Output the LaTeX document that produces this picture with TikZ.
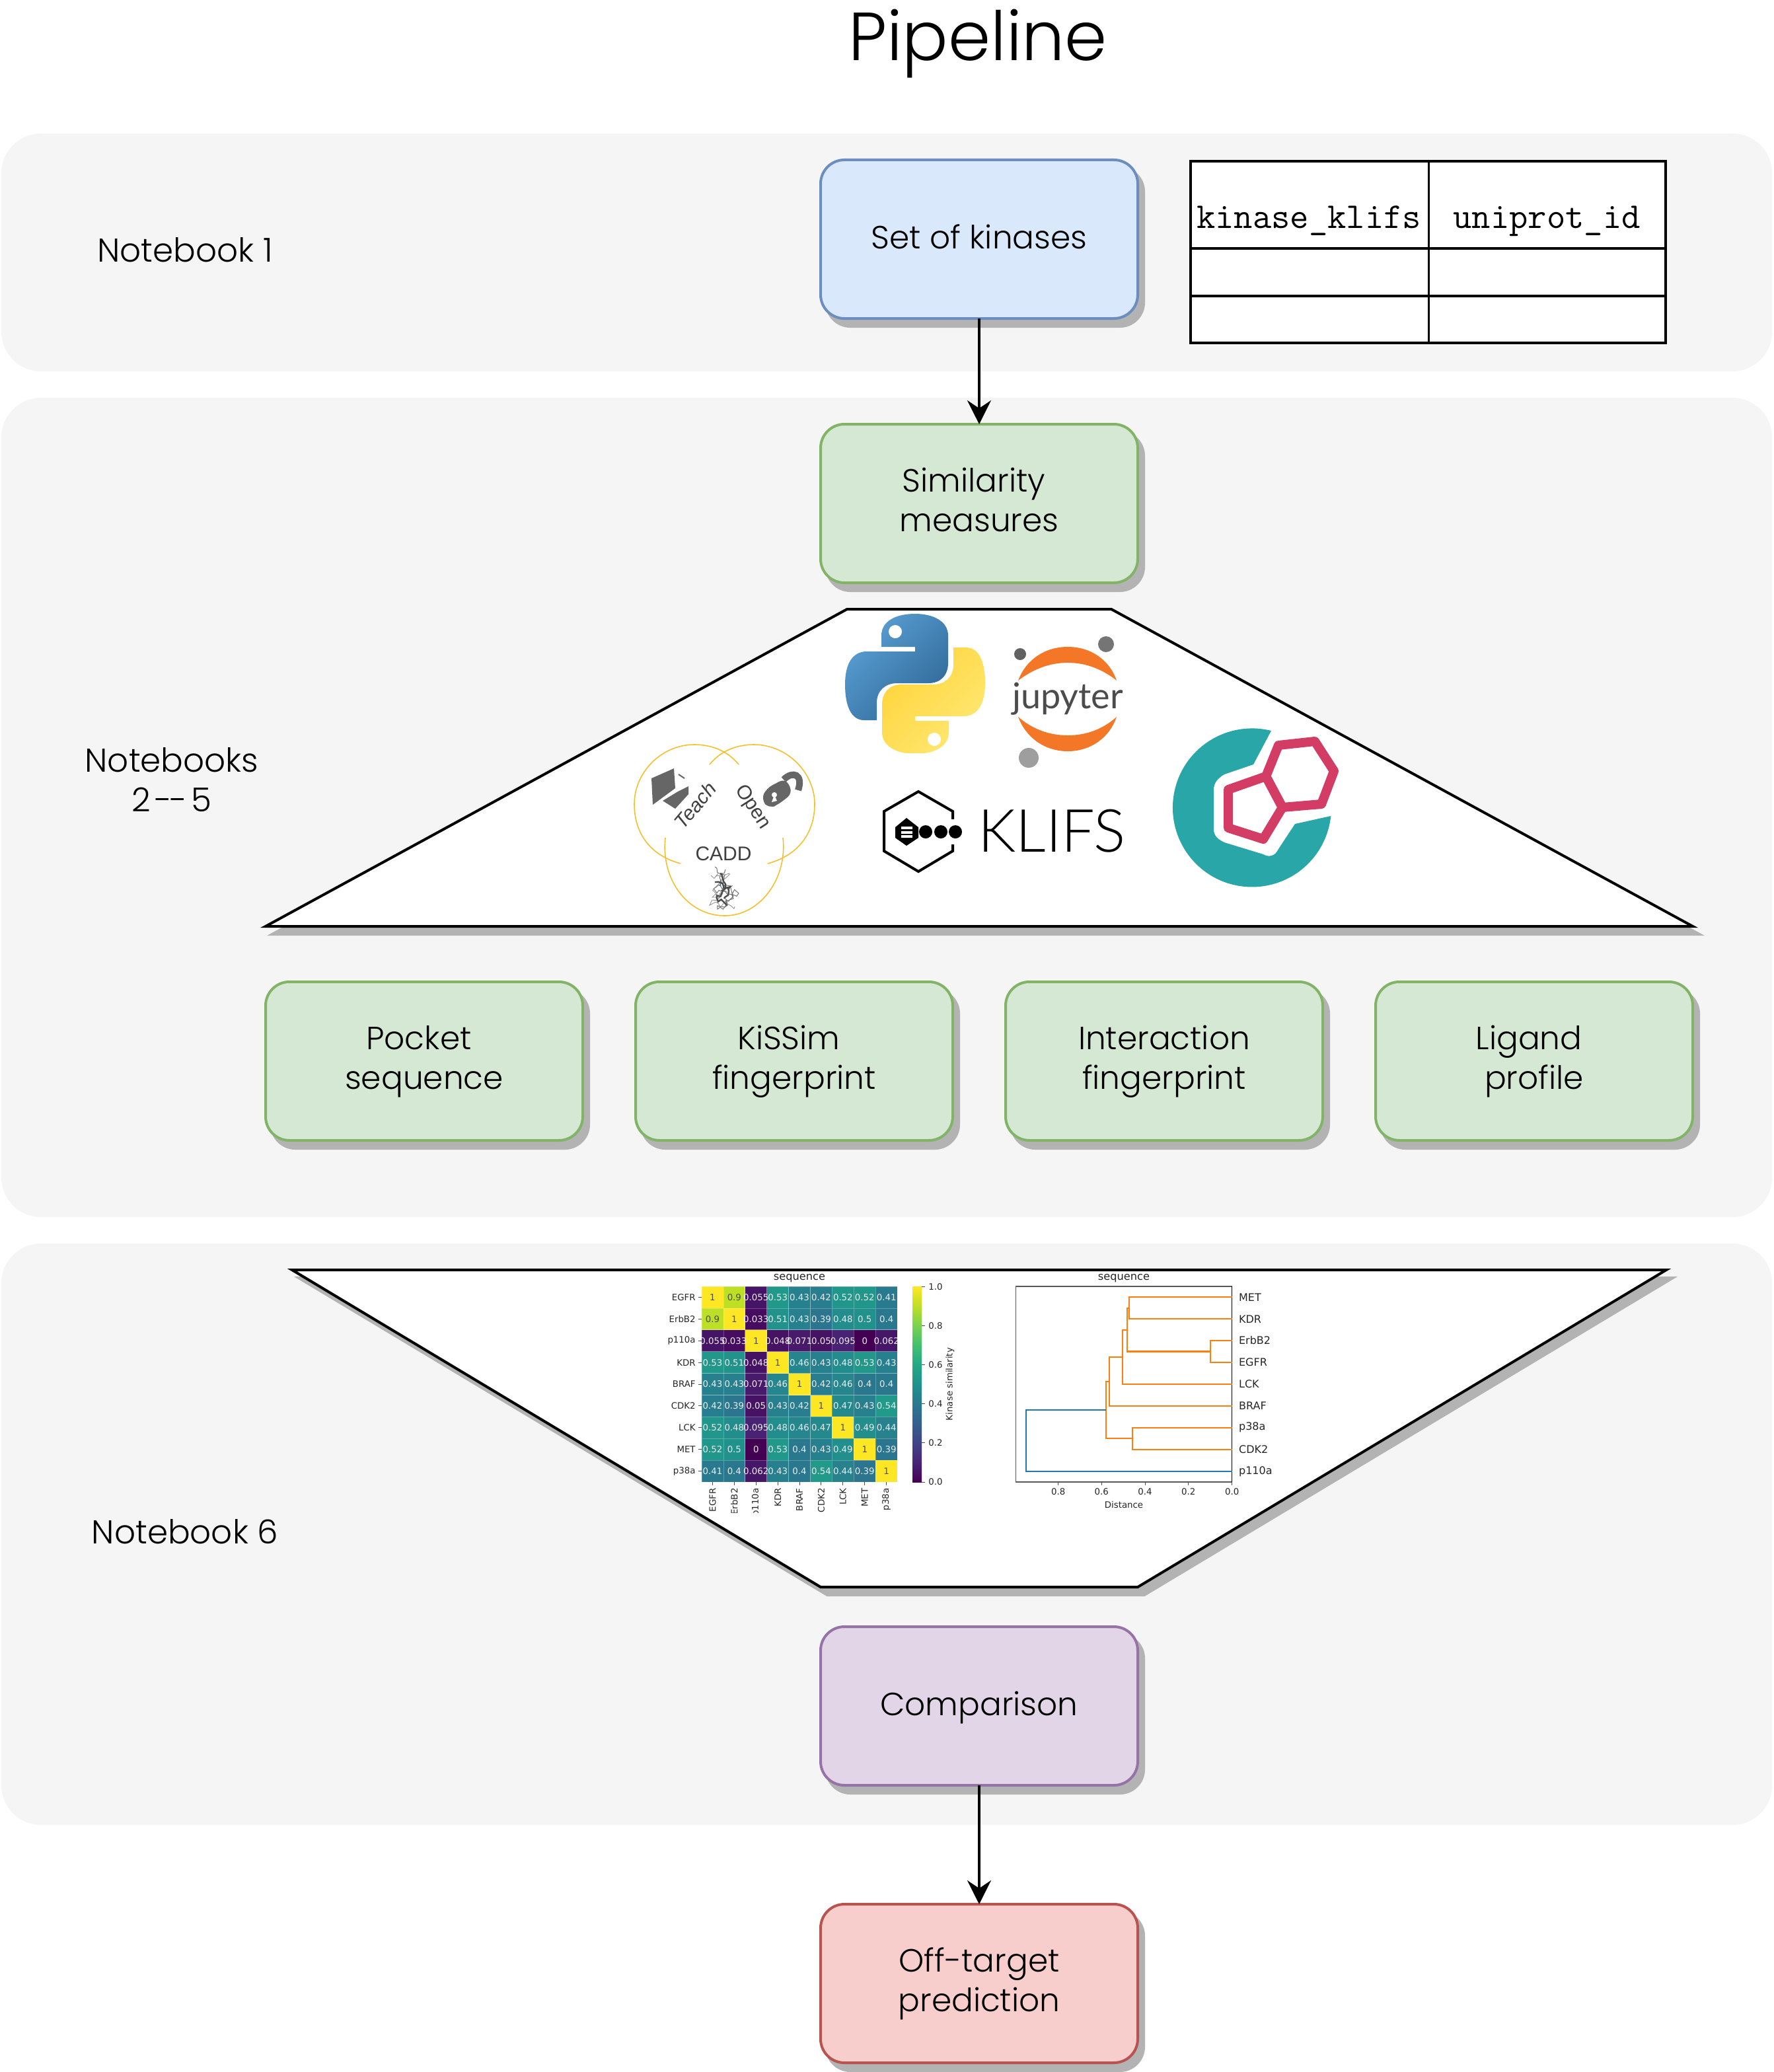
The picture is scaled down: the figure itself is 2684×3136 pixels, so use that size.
\documentclass[tikz,border=0pt]{standalone}
\usepackage{fontspec}
\setmainfont{Poppins}[UprightFont=* Light]
\newfontfamily\fDV{DejaVu Sans}
\newfontfamily\fLib{Liberation Sans}
\newfontfamily\fLato{Lato}[UprightFont=* Light]
\newfontfamily\fLatoR{Lato}
\usetikzlibrary{arrows.meta,shadows,decorations.pathmorphing}
\definecolor{groupbg}{HTML}{F5F5F5}
\definecolor{shadowc}{HTML}{B3B3B3}
\definecolor{vir0}{HTML}{440154}\definecolor{vir1}{HTML}{482475}\definecolor{vir2}{HTML}{414487}
\definecolor{vir3}{HTML}{355F8D}\definecolor{vir4}{HTML}{2A788E}\definecolor{vir5}{HTML}{21918C}
\definecolor{vir6}{HTML}{22A884}\definecolor{vir7}{HTML}{44BF70}\definecolor{vir8}{HTML}{7AD151}
\definecolor{vir9}{HTML}{BDDF26}\definecolor{vir10}{HTML}{FDE725}
\definecolor{jorange}{HTML}{F37726}
\definecolor{tealc}{HTML}{29A6A8}
\definecolor{pinkc}{HTML}{D33C65}
\definecolor{goldc}{HTML}{F5C02F}
\definecolor{dorange}{HTML}{FF7F0E}
\definecolor{dblue}{HTML}{1F77B4}
\definecolor{blueline}{HTML}{6C8EBF}\definecolor{bluefill}{HTML}{DAE8FC}
\definecolor{greenline}{HTML}{82B366}\definecolor{greenfill}{HTML}{D5E8D4}
\definecolor{purpleline}{HTML}{9673A6}\definecolor{purplefill}{HTML}{E1D5E7}
\definecolor{redline}{HTML}{B85450}\definecolor{redfill}{HTML}{F8CECC}
\definecolor{pyblueA}{HTML}{5A9FD4}\definecolor{pyblueB}{HTML}{306998}
\definecolor{pyyelA}{HTML}{FFE873}\definecolor{pyyelB}{HTML}{FFD43B}
\newcommand{\setvir}[1]{%
  \pgfmathtruncatemacro\vseg{floor(#1*10+0.0001)}%
  \pgfmathtruncatemacro\vpct{round(100*(#1*10-\vseg))}%
  \pgfmathtruncatemacro\vnext{min(\vseg+1,10)}%
  \colorlet{vircur}{vir\vnext!\vpct!vir\vseg}%
  \pgfmathtruncatemacro\vlight{#1>0.7?1:0}%
}
\newcommand{\tsp}{\kern8pt}
\tikzset{
  x=0.5pt,y=-0.5pt,
  groupbox/.style={fill=groupbg,rounded corners=30pt},
  flowbox/.style={draw=#1,line width=2pt,rounded corners=18pt,minimum width=240pt,minimum height=120pt,
    align=center,outer sep=0pt,font=\fontsize{24.3}{30}\selectfont,
    execute at begin node={\rule{0pt}{23pt}},execute at end node=\strut,
    drop shadow={shadow xshift=4.5pt,shadow yshift=-6pt,fill=shadowc,draw=shadowc,opacity=1}},
  twoline/.style={text height=51pt,text depth=9pt},
  blueb/.style={flowbox=blueline,fill=bluefill},
  greenb/.style={flowbox=greenline,fill=greenfill},
  purpleb/.style={flowbox=purpleline,fill=purplefill},
  redb/.style={flowbox=redline,fill=redfill},
  lbl/.style={align=center,font=\fontsize{25}{30}\selectfont},
  arrowl/.style={line width=2pt,-{Stealth[length=18pt,width=18pt,inset=6pt]}},
  trap/.style={fill=white,draw=black,line width=2pt,line join=miter},
  trapsh/.style={fill=shadowc,draw=shadowc,line width=2pt},
  tcell/.style={draw=black,line width=2pt},
  plot/.style={font=\fDV\fontsize{6.67}{8}\selectfont,text=black!85,inner sep=0pt},
  ptick/.style={line width=.5pt,black!70},
  den/.style={line width=1.1pt,line join=miter},
  protein/.style={decorate,decoration={random steps,segment length=2pt,amplitude=#1}},
}
\def\pysnake{(1334,979) -- (1385,979) -- (1385,986) -- (1312,986)
 .. controls (1290,986) and (1279,1005) .. (1279,1036)
 .. controls (1279,1068) and (1288,1090) .. (1308,1090) -- (1327,1090) -- (1327,1064)
 .. controls (1327,1045) and (1340,1034) .. (1358,1034) -- (1405,1034)
 .. controls (1424,1034) and (1435,1022) .. (1435,1003) -- (1435,962)
 .. controls (1435,940) and (1412,929) .. (1385,929)
 .. controls (1356,929) and (1334,940) .. (1334,962) -- cycle}
\begin{document}
\begin{tikzpicture}
\useasboundingbox (0,0) rectangle (2684,3136);
% groups
\fill[groupbox] (2,202) rectangle (2682,562);
\fill[groupbox] (2,602) rectangle (2682,1842);
\fill[groupbox] (2,1882) rectangle (2682,2762);
% title and labels
\node[font=\fontsize{51.5}{60}\selectfont] (title) at (1480,66) {Pipeline};
\node[lbl] (nb1) at (280,378) {Notebook 1};
\node[lbl] (nb2) at (260,1180) {Notebooks\\{\spaceskip=3pt 2 {-}\kern-1.5pt{-} 5}};
\node[lbl] (nb6) at (280,2318) {Notebook 6};
% upper trapezoid
\fill[trapsh] (1292,934) -- (1692,934) -- (2572,1414) -- (412,1414) -- cycle;
\draw[trap] (1282,922) -- (1682,922) -- (2562,1402) -- (402,1402) -- cycle;
% python logo
\begin{scope}
\clip (1270,925) rectangle (1500,1139);
\shade[top color=pyblueA,bottom color=pyblueB,shading angle=45] \pysnake;
\begin{scope}[rotate around={180:(1385,1035)}]
\shade[top color=pyyelB,bottom color=pyyelA,shading angle=45] \pysnake;
\end{scope}
\end{scope}
\fill[white] (1355,956) circle[radius=10];
\fill[white] (1414,1119) circle[radius=10];
% jupyter logo
\fill[jorange] (1541,1030) .. controls (1552,1000) and (1580,979) .. (1616,979)
  .. controls (1652,979) and (1680,1000) .. (1690,1030)
  .. controls (1670,1014) and (1645,1003) .. (1616,1003)
  .. controls (1587,1003) and (1562,1014) .. (1541,1030) -- cycle;
\fill[jorange] (1541,1085) .. controls (1552,1115) and (1580,1137) .. (1616,1137)
  .. controls (1652,1137) and (1680,1115) .. (1690,1085)
  .. controls (1670,1103) and (1645,1113) .. (1616,1113)
  .. controls (1587,1113) and (1562,1103) .. (1541,1085) -- cycle;
\fill[black!54] (1674,975) circle[radius=12];
\fill[black!62] (1544,990) circle[radius=9];
\fill[black!38] (1557,1147) circle[radius=15];
\node[anchor=base,text=black!70,inner sep=0pt,font=\fLatoR\fontsize{27}{30}\selectfont] (jup) at (1616,1072) {jupyter};
% KLIFS logo
\draw[line width=2pt,line join=miter] (1390,1198) -- (1442,1228) -- (1442,1288) -- (1390,1319) -- (1338,1288) -- (1338,1228) -- cycle;
\fill[white] (1432,1240) rectangle (1455,1278);
\fill (1372,1238) -- (1390,1252) -- (1390,1268) -- (1372,1280) -- (1355,1268) -- (1355,1252) -- cycle;
\fill[white] (1364,1251) rectangle (1381,1255);
\fill[white] (1364,1258) rectangle (1381,1262);
\fill[white] (1364,1264) rectangle (1381,1268);
\fill (1401,1259) circle[radius=10];
\fill (1424,1259) circle[radius=10];
\fill (1446,1259) circle[radius=10];
\node[anchor=base west,inner sep=0pt,font=\fLato\fontsize{45}{50}\selectfont] (klifs) at (1480,1289) {KLIFS};
% teal logo
\fill[tealc] (1924,1106) arc[start angle=-76,end angle=-354,radius=120]
 -- (1960,1247) -- (1935,1285) .. controls (1930,1296) and (1920,1298) .. (1912,1293)
 -- (1853,1275) .. controls (1843,1270) and (1837,1265) .. (1837,1255) -- (1837,1195)
 .. controls (1837,1185) and (1843,1178) .. (1853,1172) -- (1897,1157) -- cycle;
\draw[pinkc,line width=7pt,line join=round]
 (1935,1128) -- (1990,1122) -- (2019,1167) -- (2000,1217) -- (1941,1222) -- (1916,1175) -- cycle;
\draw[pinkc,line width=7pt,line join=round]
 (1916,1175) -- (1941,1222) -- (1912,1270) -- (1859,1253) -- (1859,1195) -- cycle;
% teachopencadd logo
\draw[goldc,line width=.8pt] (1118,1157) .. controls (1100,1135) and (1075,1127) .. (1051,1127)
 .. controls (1000,1127) and (960,1170) .. (960,1217) .. controls (960,1262) and (985,1295) .. (1030,1307);
\draw[goldc,line width=.8pt] (1074,1157) .. controls (1092,1135) and (1117,1127) .. (1141,1127)
 .. controls (1192,1127) and (1233,1170) .. (1233,1217) .. controls (1233,1262) and (1207,1295) .. (1162,1307);
\draw[goldc,line width=.8pt] (1007,1268) .. controls (1000,1330) and (1040,1386) .. (1097,1386)
 .. controls (1150,1386) and (1192,1330) .. (1185,1268);
\fill[black!60] (986,1178) -- (1020,1163) -- (1022,1193) -- (988,1218) -- cycle;
\fill[black!60] (1042,1190) -- (1042,1202) -- (1022,1224) -- (1003,1212) -- (1026,1198) -- cycle;
\draw[black!60,line width=1pt] (1027,1172) -- (1036,1178);
\fill[black!60,rounded corners=5pt] (1152,1210) -- (1160,1193) -- (1189,1178) -- (1200,1200) -- (1179,1217) -- (1164,1224) -- cycle;
\draw[black!60,line width=5pt] (1186,1180) .. controls (1200,1166) and (1216,1172) .. (1208,1196);
\fill[white] (1172,1203) circle[radius=4];
\fill[white] (1172,1203) -- (1168,1214) -- (1176,1212) -- cycle;
\node[rotate=50,text=black!75,font=\fLib\itshape\fontsize{15}{18}\selectfont] (teach) at (1052,1219) {Teach};
\node[rotate=-57,text=black!75,font=\fLib\fontsize{15}{18}\selectfont] (openl) at (1139,1222) {Open};
\node[text=black!75,font=\fLib\fontsize{15}{18}\selectfont] (cadd) at (1095,1292) {CADD};
\pgfmathsetseed{7}
\draw[black!55,line width=.5pt,protein=2.5pt]
 (1082,1312) -- (1096,1330) -- (1080,1345) -- (1110,1360) -- (1086,1376) -- (1118,1352) -- (1090,1340) -- (1098,1316);
\draw[black!45,line width=.4pt,protein=3pt]
 (1076,1325) -- (1104,1322) -- (1078,1358) -- (1100,1350) -- (1074,1370) -- (1112,1372);
\draw[black!70,line width=1.2pt,protein=2pt]
 (1090,1322) -- (1098,1338) -- (1086,1362) -- (1100,1370);
\draw[black!70,line width=1.2pt,protein=2pt]
 (1082,1335) -- (1102,1345) -- (1096,1360);
\fill[dblue] (1090,1340) circle[radius=1.5];
% box row
\node[blueb] (kinases) at (1482,362) {Set of kinases};
\node[greenb,twoline] (sim) at (1482,762) {Similarity\tsp\\measures};
\node[greenb,twoline] (pocket) at (642,1606) {Pocket\tsp\\sequence};
\node[greenb,twoline] (kissim) at (1202,1606) {KiSSim\tsp\\fingerprint};
\node[greenb,twoline] (interact) at (1762,1606) {Interaction\\fingerprint};
\node[greenb,twoline] (ligand) at (2322,1606) {Ligand\tsp\\profile};
% table
\fill[white] (1802,244) rectangle (2521,519);
\draw[tcell] (1802,244) rectangle (2521,519);
\draw[tcell] (1802,376) -- (2521,376);
\draw[tcell] (1802,448) -- (2521,448);
\draw[line width=1.5pt] (2162,244) -- (2162,519);
\node[anchor=base,inner sep=0pt,font=\ttfamily\fontsize{27.5}{30}\selectfont] (colA) at (1981,345) {kinase\_klifs};
\node[anchor=base,inner sep=0pt,font=\ttfamily\fontsize{27.5}{30}\selectfont] (colB) at (2341,345) {uniprot\_id};
% lower trapezoid
\fill[trapsh] (452,1934) -- (2532,1934) -- (1732,2414) -- (1252,2414) -- cycle;
\draw[trap] (442,1922) -- (2522,1922) -- (1722,2402) -- (1242,2402) -- cycle;
% heatmap
\foreach \row [count=\r from 0] in {
 {1,0.9,0.055,0.53,0.43,0.42,0.52,0.52,0.41},
 {0.9,1,0.033,0.51,0.43,0.39,0.48,0.5,0.4},
 {0.055,0.033,1,0.048,0.071,0.05,0.095,0,0.062},
 {0.53,0.51,0.048,1,0.46,0.43,0.48,0.53,0.43},
 {0.43,0.43,0.071,0.46,1,0.42,0.46,0.4,0.4},
 {0.42,0.39,0.05,0.43,0.42,1,0.47,0.43,0.54},
 {0.52,0.48,0.095,0.48,0.46,0.47,1,0.49,0.44},
 {0.52,0.5,0,0.53,0.4,0.43,0.49,1,0.39},
 {0.41,0.4,0.062,0.43,0.4,0.54,0.44,0.39,1}} {
  \foreach \v [count=\c from 0] in \row {
    \setvir{\v}
    \pgfmathsetmacro\xa{1062+\c*32.9}
    \pgfmathsetmacro\ya{1947+\r*32.9}
    \fill[vircur] (\xa,\ya) rectangle ++(32.9,32.9);
    \draw[white,opacity=.25,line width=.4pt] (\xa,\ya) rectangle ++(32.9,32.9);
  }
}
\foreach \row [count=\r from 0] in {
 {1,0.9,0.055,0.53,0.43,0.42,0.52,0.52,0.41},
 {0.9,1,0.033,0.51,0.43,0.39,0.48,0.5,0.4},
 {0.055,0.033,1,0.048,0.071,0.05,0.095,0,0.062},
 {0.53,0.51,0.048,1,0.46,0.43,0.48,0.53,0.43},
 {0.43,0.43,0.071,0.46,1,0.42,0.46,0.4,0.4},
 {0.42,0.39,0.05,0.43,0.42,1,0.47,0.43,0.54},
 {0.52,0.48,0.095,0.48,0.46,0.47,1,0.49,0.44},
 {0.52,0.5,0,0.53,0.4,0.43,0.49,1,0.39},
 {0.41,0.4,0.062,0.43,0.4,0.54,0.44,0.39,1}} {
  \foreach \v [count=\c from 0] in \row {
    \setvir{\v}
    \pgfmathsetmacro\xa{1062+(\c+.5)*32.9}
    \pgfmathsetmacro\ya{1947+(\r+.5)*32.9}
    \ifnum\vlight=1
      \node[plot,text=black!70] (hv\r-\c) at (\xa,\ya) {\v};
    \else
      \node[plot,text=white!92!black] (hv\r-\c) at (\xa,\ya) {\v};
    \fi
  }
}
\begin{scope}
\clip (950,1925) rectangle (1460,2289);
\foreach \n [count=\i from 0] in {EGFR,ErbB2,p110a,KDR,BRAF,CDK2,LCK,MET,p38a} {
  \pgfmathsetmacro\pp{1947+(\i+.5)*32.9}
  \pgfmathsetmacro\qq{1062+(\i+.5)*32.9}
  \draw[ptick] (1057,\pp) -- (1062,\pp);
  \draw[ptick] (\qq,2243) -- (\qq,2248);
  \node[plot,anchor=east] (hrow\i) at (1053,\pp) {\n};
  \node[plot,anchor=east,rotate=90] (hcol\i) at (\qq,2252) {\n};
}
\end{scope}
\node[plot,font=\fDV\fontsize{8.1}{10}\selectfont] (htitle) at (1210,1935) {sequence};
\foreach \i [evaluate=\i as \j using int(\i+1),evaluate=\i as \bot using 2243-\i*29.56,evaluate=\i as \tp using 2243-(\i+1)*29.56] in {0,...,9} {
  \shade[bottom color=vir\i,top color=vir\j] (1381,\bot) rectangle (1395,\tp);
}
\foreach \l [count=\i from 0] in {0.0,0.2,0.4,0.6,0.8,1.0} {
  \pgfmathsetmacro\pp{2243-\i*59.12}
  \draw[ptick] (1395,\pp) -- (1400,\pp);
  \node[plot,anchor=west] (cb\i) at (1405,\pp) {\l};
}
\node[plot,rotate=90] (cbl) at (1438,2095) {Kinase similarity};
% dendrogram
\draw[black!65,line width=.6pt] (1864.7,1947) -- (1537.7,1947) -- (1537.7,2243) -- (1864.7,2243);
\draw[black,line width=.6pt] (1864.7,1947) -- (1864.7,2243);
\node[plot,font=\fDV\fontsize{8.1}{10}\selectfont] (dtitle) at (1701,1935) {sequence};
\foreach \n/\yy [count=\i] in {MET/1963.3,KDR/1996.3,ErbB2/2029,EGFR/2062,LCK/2095,BRAF/2128,p38a/2160.7,CDK2/2193.7,p110a/2226.7} {
  \node[plot,anchor=west,font=\fDV\fontsize{8}{9}\selectfont] (dl\i) at (1874.7,\yy) {\n};
}
\foreach \l/\xx [count=\i] in {0.8/1601.7,0.6/1667.3,0.4/1733,0.2/1798.7,0.0/1864.7} {
  \draw[ptick] (\xx,2243) -- (\xx,2248);
  \node[plot] (dt\i) at (\xx,2258) {\l};
}
\node[plot] (dx) at (1701,2277) {Distance};
\draw[den,dorange] (1864.7,1963.3) -- (1709.3,1963.3) -- (1709.3,1996.3) -- (1864.7,1996.3);
\draw[den,dorange] (1864.7,2029) -- (1832.3,2029) -- (1832.3,2062) -- (1864.7,2062);
\draw[den,dorange] (1709.3,1979.8) -- (1705.7,1979.8) -- (1705.7,2045.5) -- (1832.3,2045.5);
\draw[den,dorange] (1705.7,2012.7) -- (1698.7,2012.7) -- (1698.7,2095) -- (1864.7,2095);
\draw[den,dorange] (1698.7,2053.7) -- (1679.3,2053.7) -- (1679.3,2128) -- (1864.7,2128);
\draw[den,dorange] (1864.7,2160.7) -- (1714.3,2160.7) -- (1714.3,2193.7) -- (1864.7,2193.7);
\draw[den,dorange] (1679.3,2090.7) -- (1674,2090.7) -- (1674,2177) -- (1714.3,2177);
\draw[den,dblue] (1674,2134) -- (1552.7,2134) -- (1552.7,2226.7) -- (1864.7,2226.7);
% bottom boxes
\node[purpleb] (comp) at (1482,2582) {Comparison};
\node[redb,twoline] (off) at (1482,3002) {Off-target\\prediction};
% connectors
\draw[arrowl] (kinases.south) -- (sim.north);
\draw[arrowl] (comp.south) -- (off.north);
\end{tikzpicture}
\end{document}
